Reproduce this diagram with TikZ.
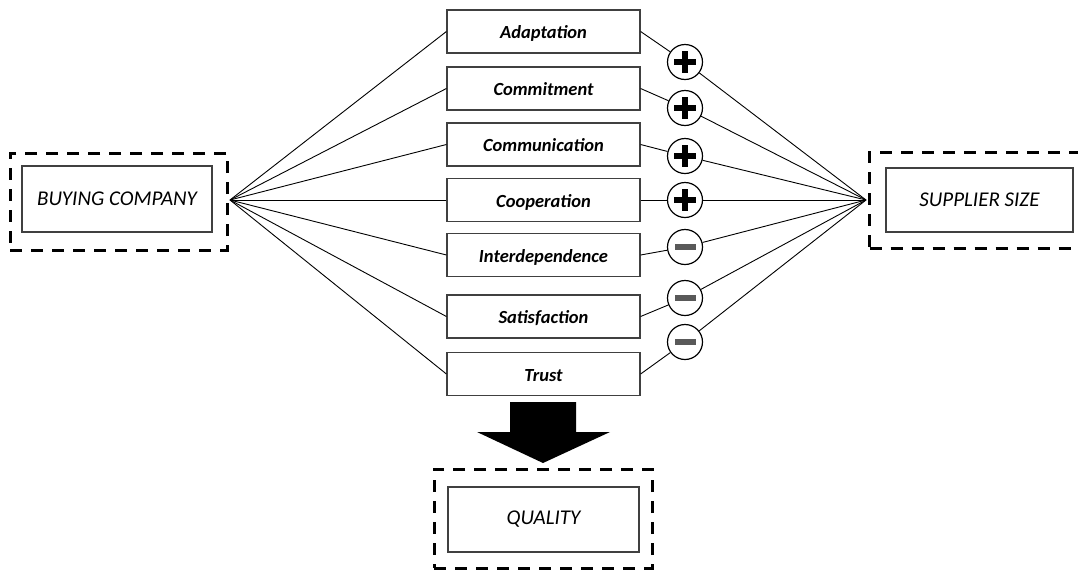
\documentclass[tikz,border=0pt]{standalone}
\usepackage{fontspec}
\setmainfont{Carlito}
\begin{document}
\begin{tikzpicture}[x=1pt,y=-1pt,
  factor/.style={draw=black!75,line width=1.2pt,minimum width=193pt,minimum height=43pt,inner sep=0pt,text height=14pt,text depth=0pt,font=\fontsize{18.5}{22}\selectfont\bfseries\itshape},
  outer/.style={draw=black!75,line width=1.2pt,inner sep=0pt,font=\fontsize{21}{25}\selectfont\itshape},
  dbox/.style={draw,line width=3pt,dash pattern=on 12pt off 9pt,inner sep=0pt},
  sign/.style={circle,draw,line width=1.2pt,minimum size=35pt,inner sep=0pt,fill=white},
  link/.style={line width=0.9pt}]
\useasboundingbox (0,0) rectangle (1078,571);
% outer boxes
\node[dbox,minimum width=217pt,minimum height=97pt] (bd) at (118.5,201.5) {};
\node[outer,minimum width=190pt,minimum height=66pt] (bc) at (117,199) {BUYING COMPANY};
\node[dbox,minimum width=215pt,minimum height=96pt,anchor=west] (sd) at (868,200) {};
\node[outer,minimum width=187pt,minimum height=64pt] (sc) at (979.5,200) {SUPPLIER SIZE};
\node[dbox,minimum width=218pt,minimum height=99pt] (qd) at (543,518.5) {};
\node[outer,minimum width=191pt,minimum height=65pt] (qc) at (543.5,519.5) {QUALITY};
\coordinate (L) at (230,200);
\coordinate (R) at (866,200);
% factor boxes
\node[factor] (f1) at (543.5,31.5) {Adaptation};
\node[factor] (f2) at (543.5,88.5) {Commitment};
\node[factor] (f3) at (543.5,144.5) {Communication};
\node[factor] (f4) at (543.5,200) {Cooperation};
\node[factor] (f5) at (543.5,255) {Interdependence};
\node[factor] (f6) at (543.5,316.5) {Satisfaction};
\node[factor] (f7) at (543.5,374) {Trust};
% sign circles
\node[sign] (s1) at (685,62) {};
\node[sign] (s2) at (685,108) {};
\node[sign] (s3) at (685,156) {};
\node[sign] (s4) at (685,200) {};
\node[sign] (s5) at (685,247) {};
\node[sign] (s6) at (685,298) {};
\node[sign] (s7) at (685,342) {};
% links
\foreach \i in {1,...,7}{
  \draw[link] (L) -- (f\i.west);
  \draw[link] (f\i.east) -- (s\i);
  \draw[link] (s\i) -- (R);
}
% plus signs
\foreach \i in {1,2,3,4}{
  \fill[black] ([xshift=-11pt,yshift=-3.4pt]s\i.center) rectangle ([xshift=11pt,yshift=3.4pt]s\i.center);
  \fill[black] ([xshift=-3.4pt,yshift=-11pt]s\i.center) rectangle ([xshift=3.4pt,yshift=11pt]s\i.center);
}
% minus signs
\foreach \i in {5,6,7}{
  \fill[black!65] ([xshift=-10.5pt,yshift=-2.6pt]s\i.center) rectangle ([xshift=10.5pt,yshift=2.6pt]s\i.center);
}
% big arrow
\fill[black] (510,402) -- (576,402) -- (576,432) -- (610,432) -- (543,463) -- (477,432) -- (510,432) -- cycle;
\end{tikzpicture}
\end{document}
